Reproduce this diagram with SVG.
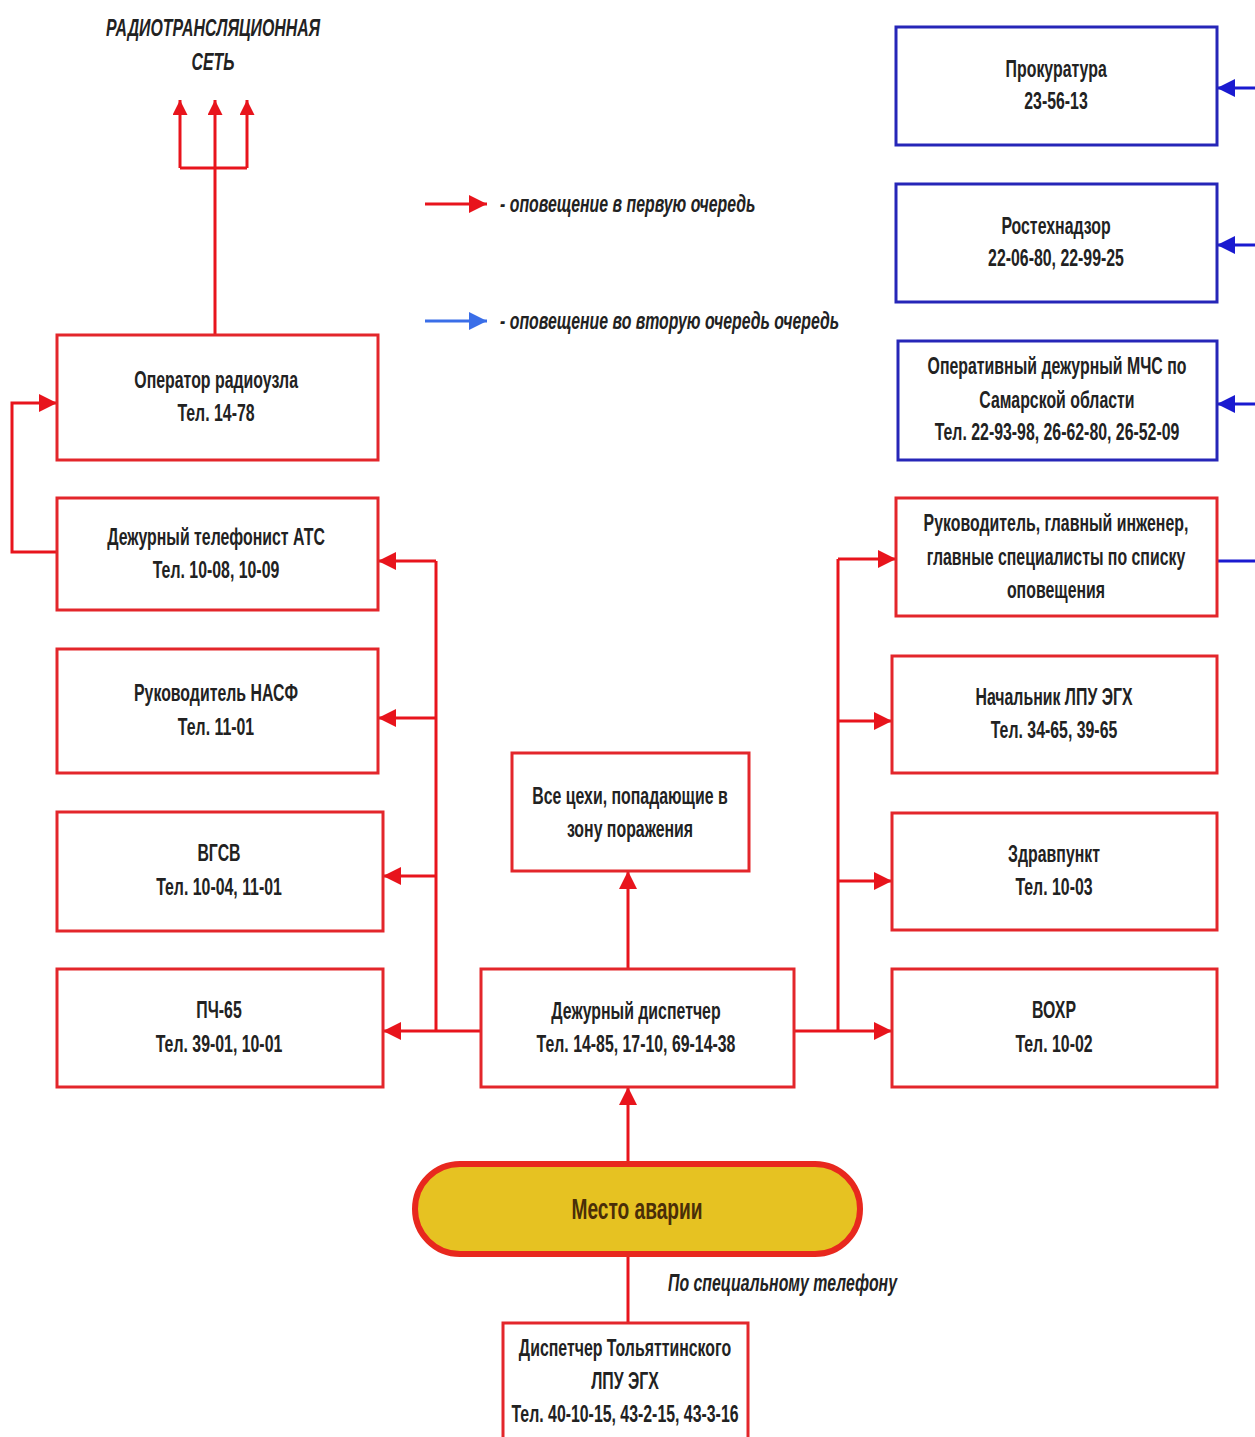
<svg xmlns="http://www.w3.org/2000/svg" width="1255" height="1437" viewBox="0 0 1255 1437">
<defs>
<style>
.r{fill:#fff;stroke:#e3262b;stroke-width:3}
.b{fill:#fff;stroke:#2626b8;stroke-width:3}
text{transform-box:fill-box;transform-origin:center;transform:scaleX(0.69)}
.t{font-family:"Liberation Sans",sans-serif;font-weight:bold;font-size:23px;fill:#222;text-anchor:middle}
.i{font-family:"Liberation Sans",sans-serif;font-weight:bold;font-style:italic;font-size:23px;fill:#222}
.l{transform-origin:left center}
.cr{fill:none;stroke:#e8141c;stroke-width:3}
.cb{fill:none;stroke:#1a1ad0;stroke-width:3}
</style>
<marker id="ar" viewBox="0 0 10 10" refX="10" refY="5" markerWidth="6" markerHeight="6" markerUnits="strokeWidth" orient="auto"><path d="M0,0L10,5L0,10z" fill="#e8141c"/></marker>
<marker id="au" viewBox="0 0 10 10" refX="10" refY="5" markerWidth="9" markerHeight="5" markerUnits="strokeWidth" orient="auto"><path d="M0,0L10,5L0,10z" fill="#e8141c"/></marker>
<marker id="ab" viewBox="0 0 10 10" refX="10" refY="5" markerWidth="6" markerHeight="6" markerUnits="strokeWidth" orient="auto"><path d="M0,0L10,5L0,10z" fill="#1a1ad0"/></marker>
<marker id="al" viewBox="0 0 10 10" refX="10" refY="5" markerWidth="6" markerHeight="6" markerUnits="strokeWidth" orient="auto"><path d="M0,0L10,5L0,10z" fill="#3a6ee8"/></marker>
</defs>
<rect width="1255" height="1437" fill="#fff"/>

<g id="connectors">
<path class="cr" d="M215,335V168M180,168H247" />
<path class="cr" d="M180,168V100" marker-end="url(#au)"/>
<path class="cr" d="M215,168V100" marker-end="url(#au)"/>
<path class="cr" d="M247,168V100" marker-end="url(#au)"/>
<path class="cr" d="M57,552H12V403H57" marker-end="url(#ar)"/>
<path class="cr" d="M436,561V1031M481,1031H436"/>
<path class="cr" d="M436,561H378" marker-end="url(#ar)"/>
<path class="cr" d="M436,718H378" marker-end="url(#ar)"/>
<path class="cr" d="M436,876H383" marker-end="url(#ar)"/>
<path class="cr" d="M436,1031H383" marker-end="url(#ar)"/>
<path class="cr" d="M838,559V1031M794,1031H838"/>
<path class="cr" d="M838,559H896" marker-end="url(#ar)"/>
<path class="cr" d="M838,721H892" marker-end="url(#ar)"/>
<path class="cr" d="M838,881H892" marker-end="url(#ar)"/>
<path class="cr" d="M838,1031H892" marker-end="url(#ar)"/>
<path class="cr" d="M628,969V871" marker-end="url(#ar)"/>
<path class="cr" d="M628,1163V1087" marker-end="url(#ar)"/>
<path class="cr" d="M628,1255V1323"/>
<path class="cb" d="M1255,88H1217" marker-end="url(#ab)"/>
<path class="cb" d="M1255,245H1217" marker-end="url(#ab)"/>
<path class="cb" d="M1255,404H1217" marker-end="url(#ab)"/>
<path class="cb" d="M1217,561H1255"/>
<path class="cr" d="M425,204H487" marker-end="url(#ar)"/>
<path d="M425,321H487" fill="none" stroke="#3a6ee8" stroke-width="3" marker-end="url(#al)"/>
</g>

<g id="title">
<text class="i" x="213" y="36" text-anchor="middle">РАДИОТРАНСЛЯЦИОННАЯ</text>
<text class="i" x="213" y="70" text-anchor="middle">СЕТЬ</text>
</g>
<g id="legend">
<text class="i l" x="500" y="212">- оповещение в первую очередь</text>
<text class="i l" x="500" y="329">- оповещение во вторую очередь очередь</text>
</g>

<g id="n-operator"><rect class="r" x="57" y="335" width="321" height="125"/>
<text class="t" x="216" y="388">Оператор радиоузла</text><text class="t" x="216" y="421">Тел. 14-78</text></g>
<g id="n-ats"><rect class="r" x="57" y="498" width="321" height="112"/>
<text class="t" x="216" y="545">Дежурный телефонист АТС</text><text class="t" x="216" y="578">Тел. 10-08, 10-09</text></g>
<g id="n-nasf"><rect class="r" x="57" y="649" width="321" height="124"/>
<text class="t" x="216" y="701">Руководитель НАСФ</text><text class="t" x="216" y="735">Тел. 11-01</text></g>
<g id="n-vgsv"><rect class="r" x="57" y="812" width="326" height="119"/>
<text class="t" x="219" y="861">ВГСВ</text><text class="t" x="219" y="895">Тел. 10-04, 11-01</text></g>
<g id="n-pch"><rect class="r" x="57" y="969" width="326" height="118"/>
<text class="t" x="219" y="1018">ПЧ-65</text><text class="t" x="219" y="1052">Тел. 39-01, 10-01</text></g>

<g id="n-prok"><rect class="b" x="896" y="27" width="321" height="118"/>
<text class="t" x="1056" y="77">Прокуратура</text><text class="t" x="1056" y="109">23-56-13</text></g>
<g id="n-rtn"><rect class="b" x="896" y="184" width="321" height="118"/>
<text class="t" x="1056" y="234">Ростехнадзор</text><text class="t" x="1056" y="266">22-06-80, 22-99-25</text></g>
<g id="n-mchs"><rect class="b" x="898" y="341" width="319" height="119"/>
<text class="t" x="1057" y="374">Оперативный дежурный МЧС по</text><text class="t" x="1057" y="408">Самарской области</text><text class="t" x="1057" y="440">Тел. 22-93-98, 26-62-80, 26-52-09</text></g>
<g id="n-ruk"><rect class="r" x="896" y="498" width="321" height="118"/>
<text class="t" x="1056" y="531">Руководитель, главный инженер,</text><text class="t" x="1056" y="565">главные специалисты по списку</text><text class="t" x="1056" y="598">оповещения</text></g>
<g id="n-nach"><rect class="r" x="892" y="656" width="325" height="117"/>
<text class="t" x="1054" y="705">Начальник ЛПУ ЭГХ</text><text class="t" x="1054" y="738">Тел. 34-65, 39-65</text></g>
<g id="n-zdrav"><rect class="r" x="892" y="813" width="325" height="117"/>
<text class="t" x="1054" y="862">Здравпункт</text><text class="t" x="1054" y="895">Тел. 10-03</text></g>
<g id="n-vohr"><rect class="r" x="892" y="969" width="325" height="118"/>
<text class="t" x="1054" y="1018">ВОХР</text><text class="t" x="1054" y="1052">Тел. 10-02</text></g>

<g id="n-ceh"><rect class="r" x="512" y="753" width="237" height="118"/>
<text class="t" x="630" y="804">Все цехи, попадающие в</text><text class="t" x="630" y="837">зону поражения</text></g>
<g id="n-disp"><rect class="r" x="481" y="969" width="313" height="118"/>
<text class="t" x="636" y="1019">Дежурный диспетчер</text><text class="t" x="636" y="1052">Тел. 14-85, 17-10, 69-14-38</text></g>
<g id="n-avaria"><rect x="415" y="1164" width="445" height="90" rx="45" fill="#e6c222" stroke="#e8281e" stroke-width="6"/>
<text class="t" x="637" y="1219" style="font-size:29px;fill:#4a2e08;transform:scaleX(0.66)">Место аварии</text></g>
<text class="i l" x="668" y="1291">По специальному телефону</text>
<g id="n-tolyatti"><rect class="r" x="503" y="1323" width="245" height="130"/>
<text class="t" x="625" y="1356">Диспетчер Тольяттинского</text><text class="t" x="625" y="1389">ЛПУ ЭГХ</text><text class="t" x="625" y="1422">Тел. 40-10-15, 43-2-15, 43-3-16</text></g>
</svg>
